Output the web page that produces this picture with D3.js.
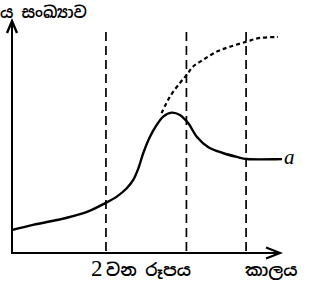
<!DOCTYPE html>
<html><head><meta charset="utf-8">
<script src="https://cdn.jsdelivr.net/npm/d3@7"></script>
<style>
html,body{margin:0;padding:0;background:#fff;}
svg{display:block;}
text{font-family:"Noto Sans Sinhala","Noto Sans","DejaVu Sans",sans-serif;fill:#000;}
</style></head>
<body>
<svg id="c" width="310" height="282"></svg>
<script>
// time values (x) and population values (y) of the solid curve "a"
const solidT = [0, 7.8, 20, 27.8, 34.4, 38.8, 42.5, 44.9, 46.8, 48.6, 51.1, 53.6, 56, 59.1, 62.2, 65.3, 68.5, 72.6, 78.1, 83.3, 87, 100];
const solidV = [9.9, 12.1, 15.1, 17.7, 21.4, 24.3, 27.9, 31.5, 36.5, 43, 50.1, 55.2, 58.8, 60.5, 59.5, 55.9, 50, 45.7, 43.1, 41.4, 40.5, 40.5];
// dashed (unrestricted) curve
const dashT = [55.4, 58.5, 62.2, 64.7, 67, 70.7, 75.8, 80.7, 86.9, 91.9, 98.5];
const dashV = [60.3, 67.4, 73.3, 76.7, 80.3, 83.2, 86.8, 88.9, 91.1, 92.7, 93.1];
// vertical dashed reference times
const markT = [34.8, 64.6, 86.7];
const markTop = 95.3;
// labels
const yLabel = "ය සංඛ්‍යාව";
const xLabel = "කාලය";
const figLabelNum = "2";
const figLabel = "වන රූපය";
const seriesLabel = "a";

const svg = d3.select("#c");
const x = d3.scaleLinear().domain([0, 100]).range([12, 282]);
const y = d3.scaleLinear().domain([0, 100]).range([253, 21]);

// vertical dashed lines
svg.selectAll("line.mark").data(markT).enter().append("line")
  .attr("x1", d => x(d)).attr("x2", d => x(d))
  .attr("y1", y(markTop)).attr("y2", y(0))
  .attr("stroke", "#000").attr("stroke-width", 1.7)
  .attr("stroke-dasharray", "9,5");

// axes
svg.append("line").attr("x1", x(0)).attr("x2", x(0)).attr("y1", y(0)+1).attr("y2", y(100))
  .attr("stroke", "#000").attr("stroke-width", 2);
svg.append("line").attr("x1", x(0)-1).attr("x2", 280).attr("y1", y(0)).attr("y2", y(0))
  .attr("stroke", "#000").attr("stroke-width", 2);
// arrowheads
svg.append("path").attr("d", `M${x(0)-5},${y(100)+12} L${x(0)},${y(100)} L${x(0)+5},${y(100)+12}`)
  .attr("fill", "none").attr("stroke", "#000").attr("stroke-width", 2.4);
svg.append("path").attr("d", `M266,${y(0)-5.5} L280,${y(0)} L266,${y(0)+5.5}`)
  .attr("fill", "none").attr("stroke", "#000").attr("stroke-width", 2.2);

const line = d3.line().x(d => x(d[0])).y(d => y(d[1])).curve(d3.curveCatmullRom.alpha(0.5));

svg.append("path").datum(solidT.map((t, i) => [t, solidV[i]]))
  .attr("d", line).attr("fill", "none").attr("stroke", "#000").attr("stroke-width", 2.4);
svg.append("path").datum(dashT.map((t, i) => [t, dashV[i]]))
  .attr("d", line).attr("fill", "none").attr("stroke", "#000").attr("stroke-width", 2.2)
  .attr("stroke-dasharray", "4,3");

// labels
svg.append("text").attr("x", 284).attr("y", y(solidV[solidV.length-1]) + 5)
  .attr("font-style", "italic").attr("font-size", 21)
  .style("font-family", "'Liberation Serif',serif").text(seriesLabel);
svg.append("text").attr("x", 0).attr("y", 18).attr("font-size", 16).attr("font-weight", 600).text(yLabel);
svg.append("text").attr("x", 91).attr("y", 276).attr("font-size", 23)
  .style("font-family", "'Liberation Serif',serif").text(figLabelNum);
svg.append("text").attr("x", 106).attr("y", 276).attr("font-size", 17).attr("font-weight", 600).text(figLabel);
svg.append("text").attr("x", 245).attr("y", 276).attr("font-size", 17).attr("font-weight", 600).text(xLabel);
</script>
</body></html>
